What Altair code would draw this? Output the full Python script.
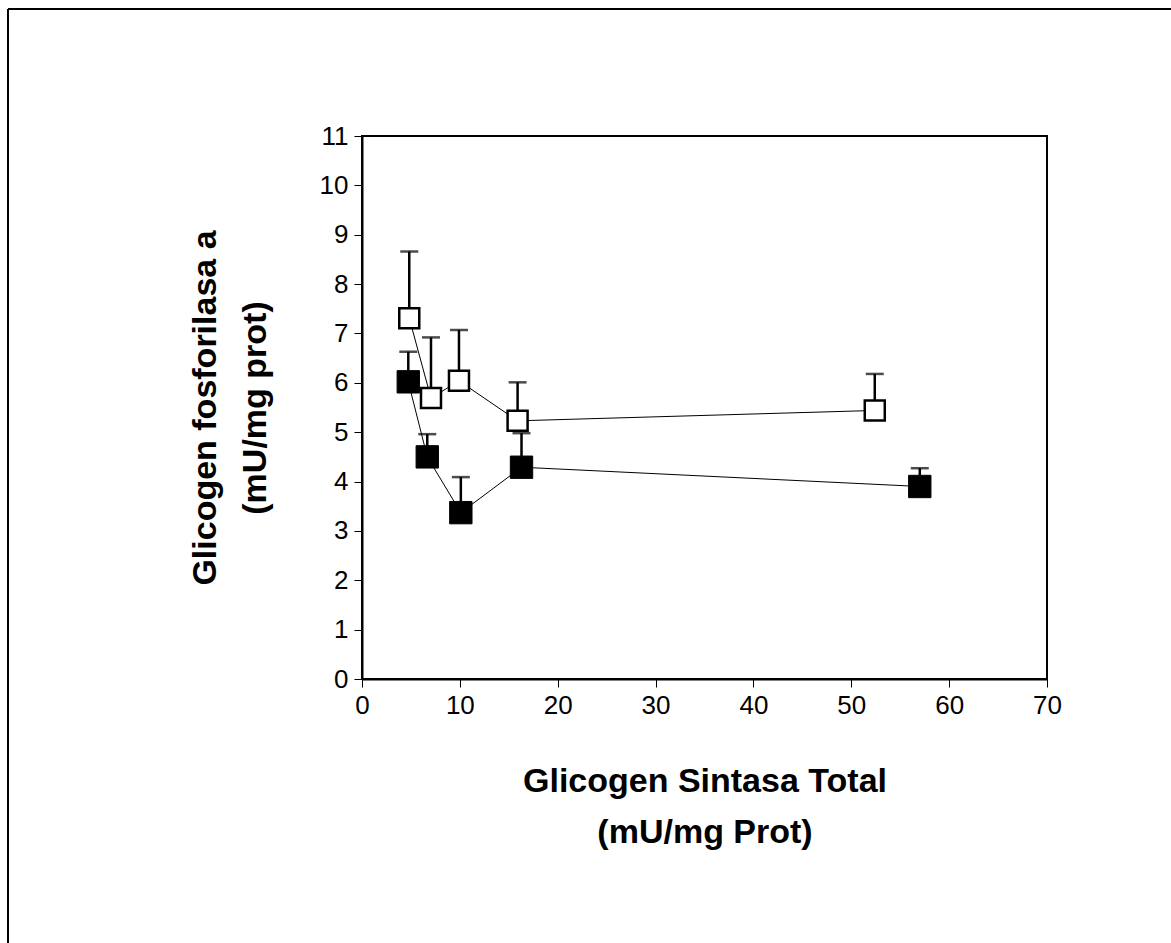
import altair as alt
import pandas as pd

# Open squares series
open_x = [4.83, 7.05, 9.91, 15.9, 52.4]
open_y = [7.31, 5.69, 6.04, 5.23, 5.44]
open_err = [8.66, 6.92, 7.07, 6.01, 6.18]

# Filled squares series
fill_x = [4.73, 6.67, 10.1, 16.3, 57.0]
fill_y = [6.02, 4.50, 3.37, 4.29, 3.90]
fill_err = [6.63, 4.96, 4.09, 4.98, 4.27]

x_title = ["Glicogen Sintasa Total", "(mU/mg Prot)"]
y_title = ["Glicogen fosforilasa a", "(mU/mg prot)"]

FONT = "Liberation Sans"
W, H = 685, 543
LEFT, TOP = 362, 136

def df(xs, ys, es):
    return pd.DataFrame({"x": xs, "y": ys, "top": es, "order": list(range(len(xs)))})

d_open = df(open_x, open_y, open_err)
d_fill = df(fill_x, fill_y, fill_err)

xs = alt.Scale(domain=[0, 70], nice=False, zero=False)
ys = alt.Scale(domain=[0, 11], nice=False, zero=False)

X = alt.X("x:Q", scale=xs,
          axis=alt.Axis(title=x_title, values=list(range(0, 71, 10)), grid=False,
                        labelFont=FONT, labelFontSize=26, labelColor="black", labelPadding=5,
                        labelFlush=False, labelOverlap=False,
                        titleFont=FONT, titleFontSize=34, titleFontWeight="bold", titleColor="black",
                        titleLineHeight=51, titlePadding=46,
                        tickColor="black", tickSize=8, tickWidth=1,
                        domainColor="black", domainWidth=2))
Y = alt.Y("y:Q", scale=ys,
          axis=alt.Axis(title=y_title, values=list(range(0, 12)), grid=False,
                        labelFont=FONT, labelFontSize=26, labelColor="black", labelPadding=6,
                        labelFlush=False, labelOverlap=False,
                        titleFont=FONT, titleFontSize=34, titleFontWeight="bold", titleColor="black",
                        titleLineHeight=50, titlePadding=47,
                        tickColor="black", tickSize=8, tickWidth=1,
                        domainColor="black", domainWidth=2))

def series(d, filled):
    base = alt.Chart(d)
    err = base.mark_rule(color="black", strokeWidth=2.5).encode(x=X, y="y:Q", y2="top:Q")
    cap = base.mark_tick(color="black", orient="horizontal", size=18, thickness=2.5).encode(
        x="x:Q", y="top:Q")
    line = base.mark_line(color="black", strokeWidth=1).encode(x="x:Q", y=Y, order="order:Q")
    if filled:
        pts = base.mark_point(shape="square", filled=True, fill="black", stroke="black",
                              strokeWidth=1, size=500, opacity=1).encode(x="x:Q", y="y:Q")
    else:
        pts = base.mark_point(shape="square", filled=True, fill="white", stroke="black",
                              strokeWidth=2.5, size=400, opacity=1).encode(x="x:Q", y="y:Q")
    return [err, cap, line, pts]

frame_top = alt.Chart(pd.DataFrame({"a": [0]})).mark_rule(color="black", strokeWidth=2).encode(
    x=alt.value(8 - LEFT), x2=alt.value(1200 - LEFT), y=alt.value(9 - TOP))
frame_left = alt.Chart(pd.DataFrame({"a": [0]})).mark_rule(color="black", strokeWidth=2).encode(
    x=alt.value(8 - LEFT), y=alt.value(9 - TOP), y2=alt.value(1000 - TOP))

chart = alt.layer(*series(d_open, False), *series(d_fill, True), frame_top, frame_left).properties(
    width=W, height=H,
    autosize=alt.AutoSizeParams(type="none"),
    padding={"left": LEFT, "top": TOP, "right": 1171 - LEFT - W, "bottom": 943 - TOP - H},
    background="white",
).configure_view(stroke="black", strokeWidth=2)

chart.save("out.html", embed_options={"renderer": "svg", "actions": False})
